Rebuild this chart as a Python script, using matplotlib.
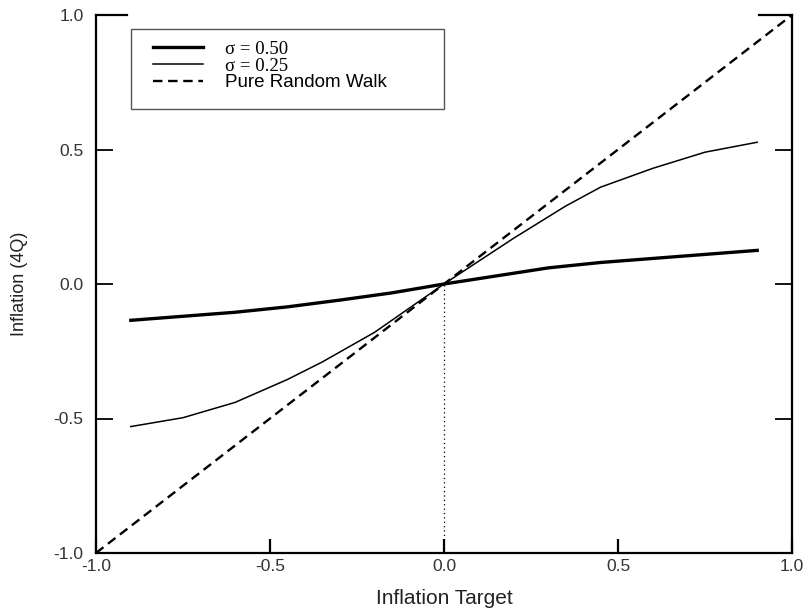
import matplotlib
matplotlib.use("Agg")
import matplotlib.pyplot as plt
from matplotlib.patches import Rectangle

# data
target = [-0.9, -0.75, -0.6, -0.45, -0.3, -0.15, 0.0, 0.15, 0.3, 0.45, 0.6, 0.75, 0.9]
sig50 = [-0.135, -0.12, -0.105, -0.085, -0.06, -0.033, 0.0, 0.03, 0.06, 0.08, 0.095, 0.11, 0.125]

target25 = [-0.9, -0.75, -0.6, -0.45, -0.35, -0.2, -0.1, 0.0, 0.1, 0.2, 0.35, 0.45, 0.6, 0.75, 0.9]
sig25 = [-0.53, -0.497, -0.44, -0.355, -0.29, -0.18, -0.09, 0.0, 0.085, 0.17, 0.29, 0.36, 0.43, 0.49, 0.527]

rw_x = [-1.0, 1.0]
rw_y = [-1.0, 1.0]

ticks = [-1.0, -0.5, 0.0, 0.5, 1.0]
tick_labels = ["-1.0", "-0.5", "0.0", "0.5", "1.0"]

plt.rcParams['font.family'] = ['Liberation Sans', 'DejaVu Sans']

fig = plt.figure(figsize=(8.11, 6.12), dpi=100)
ax = fig.add_axes([96/811, 59/612, 696/811, 538/612])

ax.plot(target, sig50, color='black', lw=2.4, label='σ = 0.50')
ax.plot(target25, sig25, color='black', lw=1.1, label='σ = 0.25')
ax.plot(rw_x, rw_y, color='black', lw=1.7, dashes=(4, 2.4), label='Pure Random Walk')
ax.plot([0.0, 0.0], [-1.0, 0.0], color='black', lw=0.9, ls=(0, (1, 2.5)))

ax.set_xlim(-1, 1)
ax.set_ylim(-1, 1)
ax.set_xticks(ticks)
ax.set_xticklabels(tick_labels)
ax.set_yticks(ticks)
ax.set_yticklabels(tick_labels)

ax.spines['top'].set_visible(False)
for s in ['left', 'right', 'bottom']:
    ax.spines[s].set_linewidth(1.6)

ax.tick_params(axis='x', direction='in', length=10, width=1.6, pad=4, labelsize=12.5,
               labelcolor='#333333')
ax.tick_params(axis='y', direction='in', length=12, width=1.3, pad=9, labelsize=12.5,
               labelcolor='#333333', right=True)

# short top segments at the corners
ax.plot([0, 0.045], [1, 1], color='black', lw=1.6, transform=ax.transAxes, clip_on=False)
ax.plot([0.953, 1], [1, 1], color='black', lw=1.6, transform=ax.transAxes, clip_on=False)

ax.set_xlabel("Inflation Target", fontsize=15, labelpad=11, color='#222222')
ax.set_ylabel("Inflation (4Q)", fontsize=13, labelpad=18, color='#222222')

# legend box drawn by hand, entries without frame
ax.add_patch(Rectangle((0.0503, 0.825), 0.4497, 0.149, transform=ax.transAxes,
                       facecolor='white', edgecolor='#555555', lw=1.0, zorder=4))
leg = ax.legend(loc='upper left', bbox_to_anchor=(0.082, 0.952), fontsize=13.5,
                handlelength=2.67, handletextpad=1.17, labelspacing=-0.02,
                borderpad=0, borderaxespad=0, frameon=False)
leg.set_zorder(5)
for t in leg.get_texts()[:2]:
    t.set_family('Liberation Serif')

fig.savefig("out.png", dpi=100)
